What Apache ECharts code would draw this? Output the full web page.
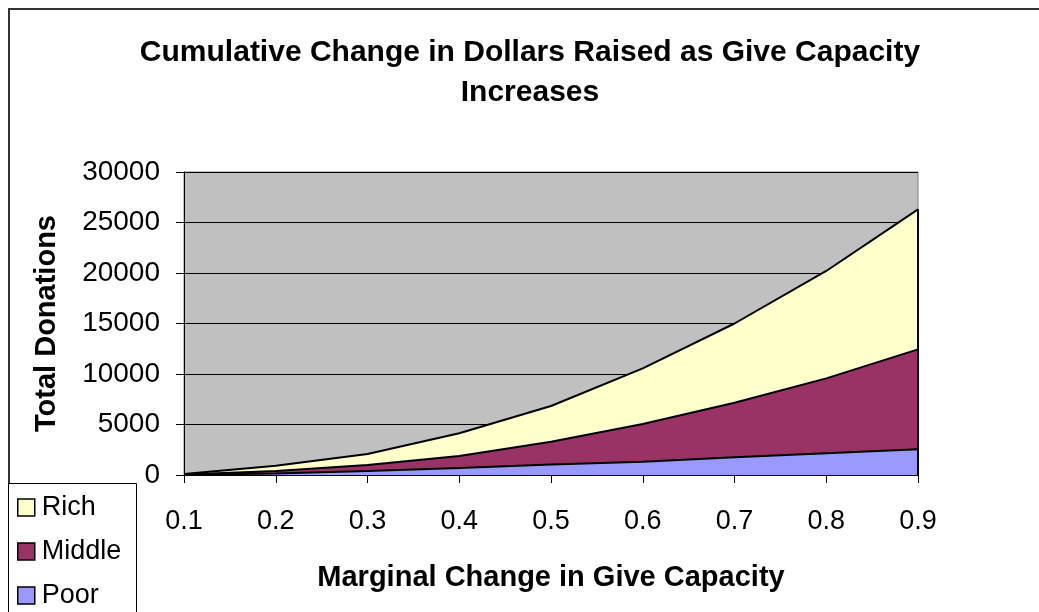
<!DOCTYPE html>
<html>
<head>
<meta charset="utf-8">
<script src="https://cdn.jsdelivr.net/npm/echarts@6/dist/echarts.min.js"></script>
<style>
  html, body { margin: 0; padding: 0; background: #fff; }
  #chart { width: 1039px; height: 612px; }
</style>
</head>
<body>
<div id="chart"></div>
<script>
// Marginal change in give capacity (x categories)
const capacity = ['0.1', '0.2', '0.3', '0.4', '0.5', '0.6', '0.7', '0.8', '0.9'];
// Donations contributed by each income group (stacked)
const poor   = [20, 150, 400, 700, 1050, 1320, 1750, 2150, 2550];
const middle = [40, 250, 590, 1180, 2250, 3730, 5410, 7420, 9890];
const rich   = [40, 520, 1090, 2250, 3530, 5510, 7840, 10630, 13860];
const groupNames = ['Rich', 'Middle', 'Poor'];

const FONT = '"Liberation Sans", Arial, sans-serif';
const last = capacity.length - 1;
const stackTop = poor[last] + middle[last] + rich[last];

const chart = echarts.init(document.getElementById('chart'), null, { renderer: 'canvas' });

function areaSeries(name, data, color, extra) {
  return Object.assign({
    name: name,
    type: 'line',
    stack: 'total',
    data: data,
    symbol: 'none',
    smooth: false,
    lineStyle: { color: '#000', width: 2 },
    itemStyle: { color: color, borderColor: '#000', borderWidth: 1.5 },
    areaStyle: { color: color, opacity: 1 },
    emphasis: { disabled: true }
  }, extra || {});
}

// one legend block per group, stacked down the lower-left box
function legendItem(name, top) {
  return {
    data: [name],
    orient: 'vertical',
    left: 17,
    top: top,
    z: 60,
    padding: 0,
    itemWidth: 17,
    itemHeight: 17,
    icon: 'rect',
    itemStyle: { borderColor: '#000', borderWidth: 1.5 },
    textStyle: { fontFamily: FONT, fontSize: 27, color: '#000', padding: [0, 0, 0, 2] }
  };
}

chart.setOption({
  animation: false,
  backgroundColor: '#fff',
  title: {
    text: 'Cumulative Change in Dollars Raised as Give Capacity\nIncreases',
    left: 525,
    top: 28,
    textAlign: 'center',
    textStyle: { fontFamily: FONT, fontSize: 30, fontWeight: 'bold', color: '#000', lineHeight: 40 }
  },
  graphic: [
    {
      type: 'rect', z: -10,
      shape: { x: 9, y: 9, width: 1200, height: 800 },
      style: { fill: 'none', stroke: '#333', lineWidth: 2 }
    },
    {
      type: 'rect', z: 50,
      shape: { x: 8.5, y: 483.5, width: 128, height: 200 },
      style: { fill: '#fff', stroke: '#000', lineWidth: 1 }
    }
  ],
  legend: [
    legendItem(groupNames[0], 494),
    legendItem(groupNames[1], 538),
    legendItem(groupNames[2], 582)
  ],
  grid: {
    left: 184, top: 172, right: 121, bottom: 137,
    show: true,
    backgroundColor: '#C0C0C0',
    borderColor: '#808080',
    borderWidth: 1
  },
  xAxis: {
    type: 'category',
    data: capacity,
    boundaryGap: false,
    name: 'Marginal Change in Give Capacity',
    nameLocation: 'middle',
    nameGap: 88,
    nameTextStyle: { fontFamily: FONT, fontSize: 29, fontWeight: 'bold', color: '#000' },
    axisLine: { lineStyle: { color: '#000', width: 1 } },
    axisTick: { show: true, inside: false, length: 8, alignWithLabel: true, lineStyle: { color: '#000' } },
    axisLabel: { fontFamily: FONT, fontSize: 27, color: '#000', margin: 33 },
    splitLine: { show: false }
  },
  yAxis: {
    type: 'value',
    min: 0, max: 30000, interval: 5000,
    name: 'Total Donations',
    nameLocation: 'middle',
    nameGap: 123,
    nameTextStyle: { fontFamily: FONT, fontSize: 29, fontWeight: 'bold', color: '#000' },
    axisLine: { show: true, lineStyle: { color: '#000', width: 1 } },
    axisTick: { show: true, inside: false, length: 8, lineStyle: { color: '#000' } },
    axisLabel: { fontFamily: FONT, fontSize: 28, color: '#000', margin: 24, formatter: v => String(v) },
    splitLine: { show: true, lineStyle: { color: '#000', width: 1 } }
  },
  series: [
    areaSeries('Poor', poor, '#9999FF'),
    areaSeries('Middle', middle, '#993366'),
    areaSeries('Rich', rich, '#FFFFCC', {
      markLine: {
        silent: true,
        symbol: 'none',
        label: { show: false },
        lineStyle: { color: '#000', width: 2, type: 'solid' },
        data: [[{ coord: [capacity[last], 0] }, { coord: [capacity[last], stackTop] }]]
      }
    })
  ]
});
</script>
</body>
</html>
